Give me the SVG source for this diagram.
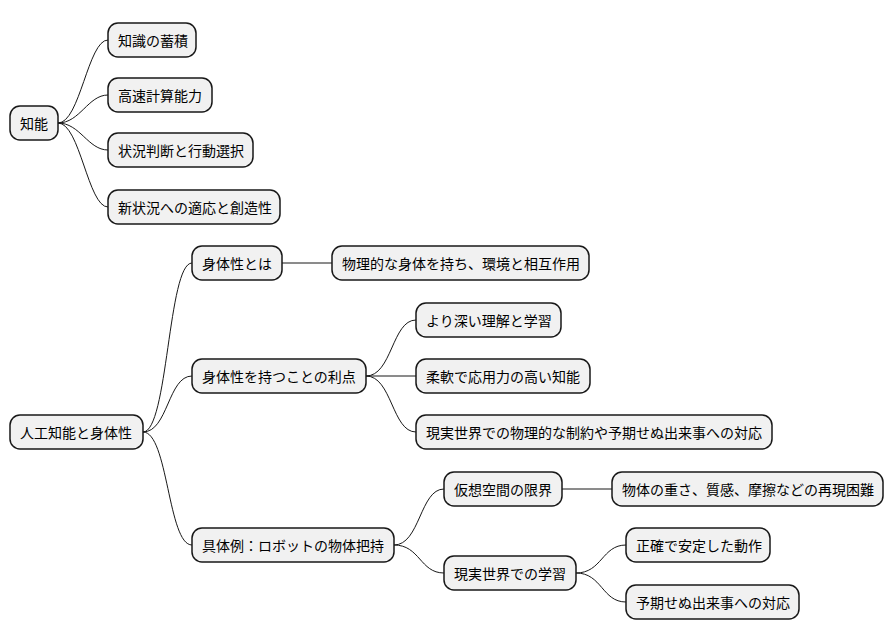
<svg xmlns="http://www.w3.org/2000/svg" width="894" height="640" viewBox="0 0 894 640">
<style>
.n rect{fill:#f1f1f1;stroke:#181818;stroke-width:1.5}
text{font-family:"Noto Sans CJK JP","Noto Sans",sans-serif;font-size:14px;fill:#000;dominant-baseline:central}
#edges path{fill:none;stroke:#181818;stroke-width:1}
</style>
<rect width="894" height="640" fill="#ffffff"/>
<g id="edges">
<path d="M58,123 C80,123 88,40 108,40"/>
<path d="M58,123 C80,123 88,95 108,95"/>
<path d="M58,123 C80,123 88,150 108,150"/>
<path d="M58,123 C80,123 88,207 108,207"/>
<path d="M143,432 C168,432 168,263 192,263"/>
<path d="M143,432 C168,432 168,376 192,376"/>
<path d="M143,432 C168,432 168,545 192,545"/>
<path d="M282,263 L332,263"/>
<path d="M366,376 C392,376 392,320 416,320"/>
<path d="M366,376 L416,376"/>
<path d="M366,376 C392,376 392,432 416,432"/>
<path d="M394,545 C420,545 420,489 444,489"/>
<path d="M394,545 C420,545 420,573 444,573"/>
<path d="M562,489 L612,489"/>
<path d="M576,573 C602,573 602,545 626,545"/>
<path d="M576,573 C602,573 602,602 626,602"/>
</g>
<g id="n1" class="n"><rect x="10" y="106" width="48" height="34" rx="10"/><text x="20" y="123">知能</text></g>
<g id="n2" class="n"><rect x="108" y="23" width="88" height="34" rx="10"/><text x="118" y="40">知識の蓄積</text></g>
<g id="n3" class="n"><rect x="108" y="78" width="104" height="34" rx="10"/><text x="118" y="95">高速計算能力</text></g>
<g id="n4" class="n"><rect x="108" y="133" width="145" height="34" rx="10"/><text x="118" y="150">状況判断と行動選択</text></g>
<g id="n5" class="n"><rect x="108" y="190" width="172" height="34" rx="10"/><text x="118" y="207">新状況への適応と創造性</text></g>
<g id="n6" class="n"><rect x="10" y="415" width="133" height="34" rx="10"/><text x="20" y="432">人工知能と身体性</text></g>
<g id="n7" class="n"><rect x="192" y="246" width="90" height="34" rx="10"/><text x="202" y="263">身体性とは</text></g>
<g id="n8" class="n"><rect x="332" y="246" width="257" height="34" rx="10"/><text x="342" y="263">物理的な身体を持ち、環境と相互作用</text></g>
<g id="n9" class="n"><rect x="192" y="359" width="174" height="34" rx="10"/><text x="202" y="376">身体性を持つことの利点</text></g>
<g id="n10" class="n"><rect x="416" y="303" width="145" height="34" rx="10"/><text x="426" y="320">より深い理解と学習</text></g>
<g id="n11" class="n"><rect x="416" y="359" width="174" height="34" rx="10"/><text x="426" y="376">柔軟で応用力の高い知能</text></g>
<g id="n12" class="n"><rect x="416" y="415" width="356" height="34" rx="10"/><text x="426" y="432">現実世界での物理的な制約や予期せぬ出来事への対応</text></g>
<g id="n13" class="n"><rect x="192" y="528" width="202" height="34" rx="10"/><text x="202" y="545">具体例：ロボットの物体把持</text></g>
<g id="n14" class="n"><rect x="444" y="472" width="118" height="34" rx="10"/><text x="454" y="489">仮想空間の限界</text></g>
<g id="n15" class="n"><rect x="612" y="472" width="271" height="34" rx="10"/><text x="622" y="489">物体の重さ、質感、摩擦などの再現困難</text></g>
<g id="n16" class="n"><rect x="444" y="556" width="132" height="34" rx="10"/><text x="454" y="573">現実世界での学習</text></g>
<g id="n17" class="n"><rect x="626" y="528" width="144" height="34" rx="10"/><text x="636" y="545">正確で安定した動作</text></g>
<g id="n18" class="n"><rect x="626" y="585" width="173" height="34" rx="10"/><text x="636" y="602">予期せぬ出来事への対応</text></g>
</svg>
